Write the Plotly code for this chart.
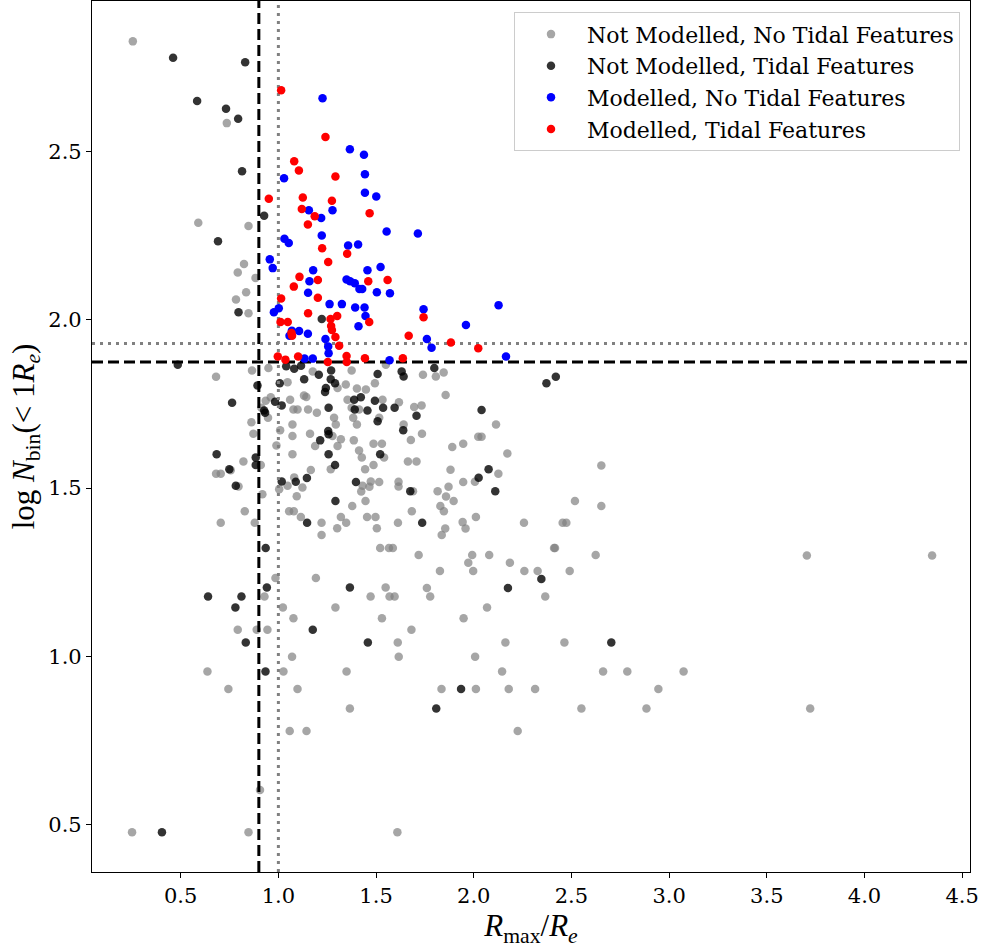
import plotly.graph_objects as go

# ---- data ----
gray_pts = [
    (0.255, 2.828), (0.736, 2.585), (0.590, 2.289), (0.847, 2.279), (0.824, 2.166), (0.792, 2.141),
    (0.883, 2.125), (0.835, 2.082), (0.783, 2.061), (0.847, 2.020),
    (1.740, 1.837), (1.846, 1.844), (1.806, 1.832), (1.550, 1.867),
    (1.856, 1.777), (1.617, 1.755), (1.695, 1.741), (1.733, 1.746), (1.641, 1.689), (1.735, 1.662),
    (2.114, 1.689), (1.678, 1.643), (2.023, 1.653), (2.040, 1.653), (1.946, 1.632), (1.890, 1.622),
    (2.172, 1.603), (1.663, 1.579), (1.707, 1.579), (2.653, 1.567), (2.126, 1.543), (1.881, 1.555),
    (2.006, 1.519), (1.946, 1.518), (1.615, 1.519), (1.615, 1.505), (1.871, 1.504), (1.689, 1.491),
    (1.815, 1.491), (1.858, 1.475), (1.897, 1.462), (2.518, 1.462), (1.829, 1.447), (2.653, 1.447),
    (1.683, 1.431), (1.847, 1.431), (1.612, 1.397), (1.943, 1.399), (1.958, 1.380), (1.854, 1.380),
    (2.011, 1.414), (2.257, 1.397), (2.455, 1.397), (2.474, 1.397), (1.836, 1.361), (1.586, 1.322),
    (1.718, 1.301), (1.992, 1.301), (2.079, 1.301), (2.411, 1.322), (2.416, 1.322), (2.624, 1.301),
    (1.972, 1.278), (2.185, 1.278), (1.827, 1.254), (1.997, 1.254), (2.259, 1.254), (2.327, 1.254),
    (2.491, 1.254), (1.760, 1.203), (1.777, 1.178), (2.366, 1.178), (1.595, 1.178),
    (2.068, 1.145), (1.948, 1.113), (1.681, 1.079), (1.611, 1.041), (2.162, 1.041), (2.464, 1.041),
    (1.616, 0.999), (2.007, 0.999), (2.145, 0.955), (2.662, 0.955), (2.786, 0.955), (3.074, 0.955),
    (1.835, 0.903), (2.011, 0.903), (2.179, 0.903), (2.314, 0.903), (2.945, 0.903), (2.551, 0.845),
    (2.884, 0.845), (3.722, 0.845), (2.225, 0.778), (1.609, 0.477), (3.705, 1.300), (4.346, 1.300),
    (1.023, 1.145), (1.292, 1.145), (1.077, 1.113), (1.530, 1.113), (0.792, 1.079), (0.889, 1.079),
    (0.944, 1.079), (1.070, 0.999), (0.637, 0.955), (1.026, 0.955), (1.349, 0.955), (0.744, 0.903),
    (1.098, 0.903), (1.366, 0.845), (1.058, 0.778), (1.144, 0.778), (0.906, 0.603), (0.251, 0.477),
    (0.847, 0.477),
    (0.681, 1.831), (0.865, 1.850), (0.949, 1.857), (1.176, 1.847), (1.375, 1.850),
    (1.047, 1.815), (1.303, 1.798), (1.345, 1.808), (1.402, 1.796), (1.448, 1.793), (1.494, 1.812),
    (1.131, 1.775), (1.143, 1.771), (1.533, 1.763), (1.354, 1.763), (1.060, 1.763), (0.935, 1.760),
    (0.961, 1.770), (0.913, 1.739), (0.947, 1.709), (1.077, 1.734), (1.098, 1.734), (1.152, 1.734),
    (1.197, 1.724), (1.375, 1.739), (1.413, 1.734), (1.516, 1.709), (1.285, 1.709), (1.294, 1.689),
    (1.383, 1.709), (1.402, 1.689), (0.862, 1.696), (1.009, 1.672), (1.072, 1.689), (1.072, 1.655),
    (0.872, 1.662), (0.990, 1.627), (1.162, 1.662), (1.277, 1.655), (1.320, 1.645), (1.303, 1.625),
    (1.188, 1.625), (1.072, 1.601), (1.413, 1.612), (1.427, 1.591), (1.487, 1.632), (1.530, 1.632),
    (1.541, 1.591), (0.821, 1.579), (0.910, 1.569), (1.268, 1.556), (1.444, 1.556), (1.487, 1.569),
    (0.756, 1.553), (1.166, 1.554), (1.047, 1.507), (1.123, 1.502), (1.431, 1.507), (1.473, 1.520),
    (1.516, 1.518), (0.918, 1.482), (1.004, 1.497), (1.386, 1.642), (1.081, 1.532),
    (0.681, 1.543), (0.705, 1.543), (0.796, 1.505), (0.828, 1.431), (0.705, 1.397), (0.879, 1.397),
    (0.985, 1.233), (0.929, 1.178), (1.192, 1.233), (1.549, 1.205), (1.472, 1.178), (1.569, 1.178),
    (1.094, 1.476), (1.055, 1.431), (1.079, 1.431), (1.115, 1.414), (1.221, 1.397), (1.221, 1.361),
    (1.301, 1.381), (1.320, 1.414), (1.347, 1.397), (1.454, 1.414), (1.497, 1.414), (1.504, 1.381),
    (1.378, 1.447), (1.446, 1.462), (1.424, 1.490), (1.466, 1.504), (1.521, 1.322), (1.566, 1.322),
]

dark_pts = [
    (0.461, 2.779), (0.830, 2.766), (0.584, 2.651), (0.732, 2.628), (0.794, 2.598), (0.814, 2.442),
    (0.927, 2.310), (0.691, 2.234), (0.796, 2.023), (1.222, 2.003),
    (1.631, 1.847), (1.641, 1.832), (1.798, 1.857), (2.372, 1.812), (2.420, 1.831), (1.595, 1.739),
    (1.707, 1.715), (2.040, 1.732), (1.639, 1.672), (2.076, 1.556), (2.025, 1.531), (1.675, 1.491),
    (2.110, 1.491), (1.736, 1.397), (2.346, 1.230), (2.175, 1.203),
    (2.704, 1.041), (1.935, 0.903), (1.808, 0.845),
    (0.780, 1.145), (1.176, 1.079), (0.833, 1.041), (1.458, 1.041), (0.934, 0.955), (0.404, 0.477),
    (0.485, 1.867), (1.040, 1.862), (1.081, 1.855), (1.116, 1.864), (1.207, 1.837), (1.270, 1.850),
    (1.508, 1.839), (1.132, 1.824), (1.268, 1.824),
    (1.007, 1.812), (0.893, 1.805), (1.290, 1.812), (1.243, 1.798), (1.239, 1.786), (1.388, 1.763),
    (1.422, 1.770), (1.494, 1.760), (0.983, 1.757), (1.017, 1.746), (0.927, 1.731), (0.932, 1.724),
    (0.763, 1.754), (1.257, 1.739), (1.391, 1.734), (1.456, 1.731), (1.536, 1.739), (1.508, 1.699),
    (1.255, 1.670), (1.257, 1.660), (1.214, 1.642), (1.257, 1.601), (1.521, 1.601), (0.884, 1.591),
    (0.884, 1.569), (1.290, 1.569), (1.146, 1.530), (1.089, 1.519), (1.017, 1.520), (1.397, 1.518),
    (0.782, 1.507),
    (0.684, 1.601), (0.749, 1.556), (0.935, 1.322), (0.941, 1.205), (0.640, 1.178), (0.811, 1.178),
    (1.366, 1.205), (1.147, 1.397), (1.292, 1.462),
]

blue_pts = [
    (1.226, 2.659), (1.366, 2.507), (1.438, 2.491), (1.029, 2.421), (1.443, 2.433), (1.443, 2.378),
    (1.501, 2.367), (1.156, 2.326), (1.277, 2.326), (1.219, 2.303), (1.554, 2.263), (1.222, 2.251),
    (1.031, 2.241), (1.053, 2.229), (1.357, 2.221), (1.408, 2.224), (0.956, 2.180), (0.971, 2.154),
    (1.178, 2.148), (1.456, 2.148), (1.523, 2.157), (1.159, 2.115), (1.349, 2.120), (1.367, 2.115),
    (1.391, 2.109), (1.415, 2.092), (1.429, 2.092), (1.152, 2.081), (1.504, 2.082), (1.571, 2.079),
    (1.262, 2.047), (1.325, 2.047), (1.393, 2.037), (1.441, 2.037), (1.002, 2.035), (0.977, 2.023),
    (1.446, 2.012), (1.410, 1.981), (1.069, 1.968), (1.106, 1.967), (1.057, 1.953), (1.151, 1.959),
    (1.241, 1.943), (1.255, 1.921), (1.257, 1.901), (1.569, 1.880), (1.134, 1.885), (1.176, 1.885),
    (1.743, 2.032), (2.127, 2.044), (1.960, 1.985), (1.760, 1.943), (1.784, 1.917), (2.165, 1.891),
    (1.714, 2.257),
]

red_pts = [
    (1.014, 2.683), (1.241, 2.544), (1.081, 2.472), (1.105, 2.444), (1.292, 2.426), (0.951, 2.360),
    (1.125, 2.364), (1.274, 2.354), (1.120, 2.330), (1.186, 2.308), (1.467, 2.317), (1.151, 2.284),
    (1.224, 2.213), (1.352, 2.197), (1.255, 2.172), (1.108, 2.128), (1.202, 2.119), (1.460, 2.115),
    (1.559, 2.119), (1.079, 2.099), (1.014, 2.064), (1.202, 2.066),
    (1.152, 2.020), (1.267, 2.003), (1.301, 2.012), (1.465, 1.994), (1.011, 1.994), (1.048, 1.994),
    (1.270, 1.982), (1.274, 1.970), (1.067, 1.961), (1.070, 1.953), (1.292, 1.949), (1.311, 1.923),
    (0.997, 1.891), (1.101, 1.891), (1.036, 1.882), (1.253, 1.875), (1.349, 1.893), (1.350, 1.875),
    (1.443, 1.886),
    (1.743, 2.008), (1.667, 1.953), (1.883, 1.933), (2.023, 1.916), (1.637, 1.886),
]

labels = ["Not Modelled, No Tidal Features", "Not Modelled, Tidal Features",
          "Modelled, No Tidal Features", "Modelled, Tidal Features"]

x_cut_dashed, x_cut_dotted = 0.9, 1.0
y_cut_dashed, y_cut_dotted = 1.875, 1.93
x_range = [0.046, 4.54]
y_range = [0.359, 2.948]
x_ticks = [0.5, 1.0, 1.5, 2.0, 2.5, 3.0, 3.5, 4.0, 4.5]
y_ticks = [0.5, 1.0, 1.5, 2.0, 2.5]

SERIF = "'DejaVu Serif', serif"

fig = go.Figure()

def add_scatter(pts, name, color, opacity, group):
    fig.add_trace(go.Scatter(
        x=[p[0] for p in pts], y=[p[1] for p in pts], mode="markers", name=name,
        legendgroup=group,
        marker=dict(size=8.5, color=color, opacity=opacity, line=dict(width=0)),
    ))

add_scatter(gray_pts, labels[0], "#808080", 0.7, "g1")
add_scatter(dark_pts, labels[1], "#000000", 0.8, "g2")

# reference lines (drawn between the grey and coloured points)
line_specs = [
    ([x_cut_dashed, x_cut_dashed], y_range, "black", "11px,5px"),
    ([x_cut_dotted, x_cut_dotted], y_range, "#808080", "3px,5px"),
    (x_range, [y_cut_dashed, y_cut_dashed], "black", "11px,5px"),
    (x_range, [y_cut_dotted, y_cut_dotted], "#808080", "3px,5px"),
]
for lx, ly, c, d in line_specs:
    fig.add_trace(go.Scatter(x=lx, y=ly, mode="lines", showlegend=False, hoverinfo="skip",
                             line=dict(color=c, width=3, dash=d)))

add_scatter(blue_pts, labels[2], "#0000ff", 1.0, "g3")
add_scatter(red_pts, labels[3], "#ff0000", 1.0, "g4")

axis_common = dict(
    showgrid=False, zeroline=False, showline=True, linecolor="black", linewidth=1.2,
    mirror=True, ticks="outside", ticklen=5, tickwidth=1.2, tickcolor="black",
    tickfont=dict(family=SERIF, size=21, color="black"), tickformat=".1f",
)

fig.update_layout(
    width=982, height=950,
    margin=dict(l=92, r=12, t=1, b=78),
    plot_bgcolor="white", paper_bgcolor="white",
    xaxis=dict(range=x_range, tickvals=x_ticks,
               title=dict(text="<i>R</i><sub>max</sub>/<i>R</i><sub><i>e</i></sub>",
                          font=dict(family="Liberation Serif", size=31, color="black"), standoff=6),
               **axis_common),
    yaxis=dict(range=y_range, tickvals=y_ticks,
               title=dict(text="log <i>N</i><sub>bin</sub>(&lt; 1<i>R</i><sub><i>e</i></sub>)",
                          font=dict(family="Liberation Serif", size=31, color="black"), standoff=4),
               **axis_common),
    legend=dict(x=0.9886, y=0.987, xanchor="right", yanchor="top",
                font=dict(family=SERIF, size=22, color="black"),
                bgcolor="rgba(255,255,255,0.8)", bordercolor="#cccccc", borderwidth=1,
                tracegroupgap=0, itemwidth=62),
    showlegend=True,
)

fig.write_html("out.html")
